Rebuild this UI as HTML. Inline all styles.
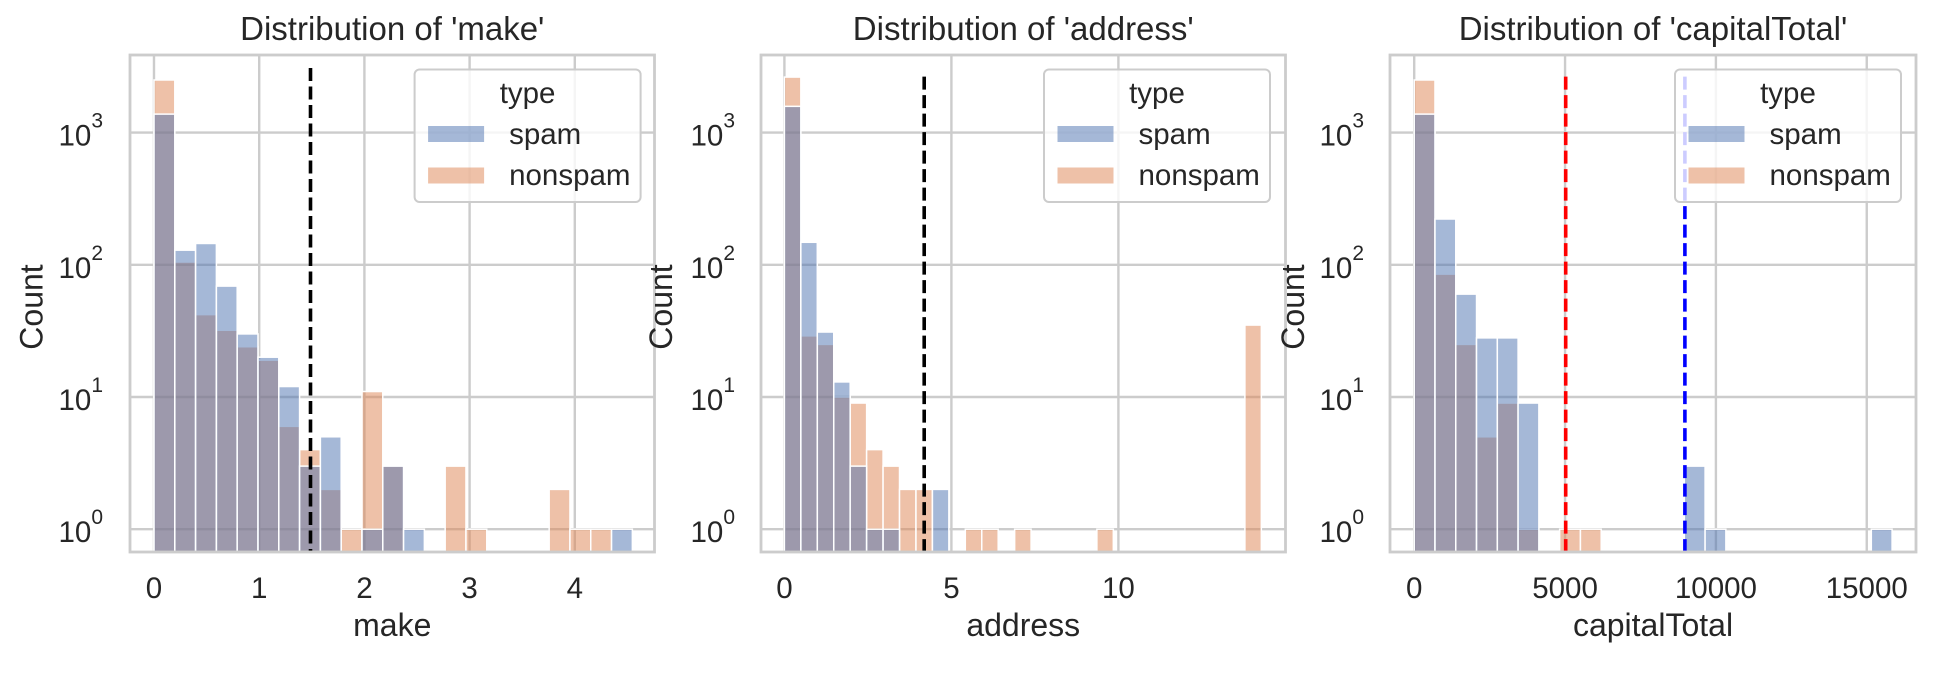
<!DOCTYPE html>
<html><head><meta charset="utf-8"><style>
html,body{margin:0;padding:0;background:#fff;}
svg{display:block;font-family:"Liberation Sans",Arial,sans-serif;}
</style></head><body>
<svg id="s" width="1934" height="687" viewBox="0 0 1934 687" xmlns="http://www.w3.org/2000/svg"></svg>
<script>
const S=document.getElementById('s');
let h='';
const Y0=529.2,DEC=132.2,TOP=55,BOT=552;
const yv=v=>Y0-DEC*Math.log10(v);
const panels=[
 {L:130,R:654.5,x0:154,ppu:105.2,bw:0.1977,title:"Distribution of 'make'",xl:"make",
  ticks:[[0,'0'],[1,'1'],[2,'2'],[3,'3'],[4,'4']],
  spam:[1380,129,145,69,30,20,12,3,5,0,1,3,1,0,0,0,0,0,0,0,0,0,1],
  non:[2500,105,42,32,24,19,6,4,2,1,11,3,0,0,3,1,0,0,0,2,1,1,0],
  lines:[[310.5,68,'#000']],leg:414.6,ytr:103,yl:31.6},
 {L:761,R:1285.5,x0:784.4,ppu:33.4,bw:0.4924,title:"Distribution of 'address'",xl:"address",
  ticks:[[0,'0'],[5,'5'],[10,'10']],
  spam:[1580,148,31,13,3,1,1,0,0,2,0,0,0,0,0,0,0,0,0,0,0,0,0,0,0,0,0,0,0],
  non:[2630,29,25,10,9,4,3,2,2,0,0,1,1,0,1,0,0,0,0,1,0,0,0,0,0,0,0,0,35],
  lines:[[924.2,76.6,'#000']],leg:1044,ytr:735,yl:661},
 {L:1390,R:1916,x0:1414.2,ppu:0.03017,bw:688.7,title:"Distribution of 'capitalTotal'",xl:"capitalTotal",
  ticks:[[0,'0'],[5000,'5000'],[10000,'10000'],[15000,'15000']],
  spam:[1380,222,60,28,28,9,0,0,0,0,0,0,0,3,1,0,0,0,0,0,0,0,1],
  non:[2500,85,25,5,9,1,0,1,1,0,0,0,0,0,0,0,0,0,0,0,0,0,0],
  lines:[[1565.7,76.6,'#ff0000'],[1684.9,76.6,'#0000ff']],leg:1675,ytr:1364,yl:1293}
];
panels.forEach((p,i)=>{
  h+=`<clipPath id="c${i}"><rect x="${p.L}" y="${TOP}" width="${p.R-p.L}" height="${BOT-TOP}"/></clipPath>`;
  p.ticks.forEach(t=>{const x=p.x0+t[0]*p.ppu;h+=`<line x1="${x}" y1="${TOP}" x2="${x}" y2="${BOT}" stroke="#cccccc" stroke-width="2.4"/>`;
    h+=`<text x="${x}" y="598" font-size="29.5" fill="#262626" text-anchor="middle">${t[1]}</text>`;});
  [0,1,2,3].forEach(d=>{const y=yv(Math.pow(10,d));h+=`<line x1="${p.L}" y1="${y}" x2="${p.R}" y2="${y}" stroke="#cccccc" stroke-width="2.4"/>`;
    h+=`<text x="${p.ytr}" y="${y+13}" font-size="29.5" fill="#262626" text-anchor="end">10<tspan font-size="21" dy="-18">${d}</tspan></text>`;});
  h+=`<g clip-path="url(#c${i})">`;
  const bars=(arr,col)=>arr.forEach((v,k)=>{if(!v)return;const x=p.x0+k*p.bw*p.ppu,w=p.bw*p.ppu,y=yv(v);
    h+=`<rect x="${x}" y="${y}" width="${w}" height="${BOT+5-y}" fill="${col}" fill-opacity="0.5" stroke="#fff" stroke-width="1.5"/>`;});
  bars(p.non,'#dd8452');bars(p.spam,'#4c72b0');
  p.lines.forEach(l=>{h+=`<line x1="${l[0]}" y1="${l[1]}" x2="${l[0]}" y2="${BOT}" stroke="${l[2]}" stroke-width="3.6" stroke-dasharray="13,5.5"/>`;});
  h+=`</g>`;
  h+=`<rect x="${p.L}" y="${TOP}" width="${p.R-p.L}" height="${BOT-TOP}" fill="none" stroke="#cccccc" stroke-width="2.8"/>`;
  const lx=p.leg;
  h+=`<rect x="${lx}" y="69.5" width="226" height="132.5" rx="5" fill="#fff" fill-opacity="0.8" stroke="#cccccc" stroke-width="2"/>`;
  h+=`<text x="${lx+113}" y="103" font-size="29.5" fill="#262626" text-anchor="middle">type</text>`;
  h+=`<rect x="${lx+13.5}" y="126" width="56" height="16" fill="#4c72b0" fill-opacity="0.5"/>`;
  h+=`<rect x="${lx+13.5}" y="167.5" width="56" height="16" fill="#dd8452" fill-opacity="0.5"/>`;
  h+=`<text x="${lx+94.5}" y="144" font-size="29.5" fill="#262626">spam</text>`;
  h+=`<text x="${lx+94.5}" y="185" font-size="29.5" fill="#262626">nonspam</text>`;
  const cx=(p.L+p.R)/2;
  h+=`<text x="${cx}" y="40" font-size="33" fill="#262626" text-anchor="middle">${p.title}</text>`;
  h+=`<text x="${cx}" y="636" font-size="32" fill="#262626" text-anchor="middle">${p.xl}</text>`;
  h+=`<text transform="translate(${p.yl+11},307) rotate(-90)" font-size="32" fill="#262626" text-anchor="middle">Count</text>`;
});
S.innerHTML=h;
</script>
</body></html>
